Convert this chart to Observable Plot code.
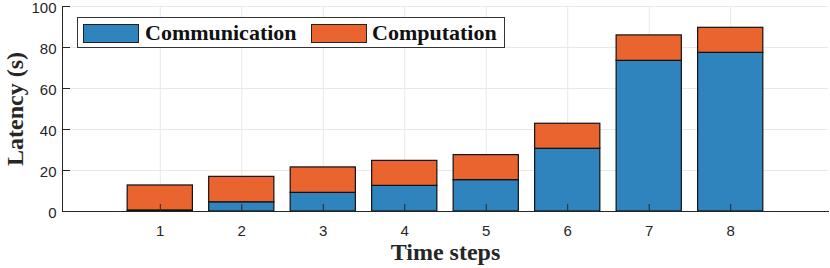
<!DOCTYPE html>
<html>
<head>
<meta charset="utf-8">
<script src="https://cdn.jsdelivr.net/npm/d3@7"></script>
<script src="https://cdn.jsdelivr.net/npm/@observablehq/plot@0.6"></script>
<style>
  html, body { margin: 0; padding: 0; background: #fff; }
  #wrap { position: relative; width: 830px; height: 268px; overflow: hidden; }
  .legend { position: absolute; left: 77px; top: 17px; width: 428px; height: 31px;
            border: 1px solid #333; background: #fff; box-sizing: border-box; }
  .sw { position: absolute; top: 6px; width: 56px; height: 19px; box-sizing: border-box; border: 1.5px solid #222; }
  .lt { position: absolute; top: 3px; font-family: "Liberation Serif", "Times New Roman", serif;
        font-weight: bold; font-size: 22px; line-height: 24px; color: #111; white-space: nowrap; }
</style>
</head>
<body>
<div id="wrap"></div>
<script>
const steps = [1, 2, 3, 4, 5, 6, 7, 8];
const communication = [0.5, 4.5, 9.1, 12.5, 15.3, 30.6, 73.5, 77.4];
const computation = [12.2, 12.4, 12.4, 12.2, 12.2, 12.2, 12.4, 12.2];
const seriesNames = ["Communication", "Computation"];
const seriesColors = ["#2f84be", "#ea6430"];
const yTicks = [0, 20, 40, 60, 80, 100];
const xTicks = steps;

const rows = steps.flatMap((s, i) => [
  {step: s, series: seriesNames[0], y1: 0, y2: communication[i]},
  {step: s, series: seriesNames[1], y1: communication[i], y2: communication[i] + computation[i]}
]);

const W = 830, H = 268, mL = 62, mR = 2, mT = 6, mB = 57;
const frameW = W - mL - mR, frameH = H - mT - mB;
const barHalf = 0.4;
const axisColor = "#262626";
const tickLen = 7;

const chart = Plot.plot({
  width: W,
  height: H,
  marginLeft: mL,
  marginRight: mR,
  marginTop: mT,
  marginBottom: mB,
  style: {fontFamily: "'Liberation Sans', Arial, Helvetica, sans-serif", fontSize: "15px", color: "#262626", background: "#fff"},
  x: {domain: [-0.2, 9.2]},
  y: {domain: [0, 100]},
  color: {domain: seriesNames, range: seriesColors},
  marks: [
    Plot.gridY(yTicks.slice(1), {stroke: "#e8e8e8", strokeOpacity: 1}),
    Plot.gridX(xTicks, {stroke: "#e8e8e8", strokeOpacity: 1}),
    Plot.rect(rows, {
      x1: d => d.step - barHalf, x2: d => d.step + barHalf,
      y1: "y1", y2: "y2", fill: "series", stroke: "#111", strokeWidth: 1.2
    }),
    // inward tick marks
    Plot.tickY(yTicks, {y: d => d, stroke: axisColor, insetRight: frameW - tickLen - 1}),
    Plot.tickX(xTicks, {x: d => d, stroke: axisColor, insetTop: frameH - tickLen}),
    Plot.axisY(yTicks, {tickSize: 0, tickPadding: 6, dy: 2, fill: axisColor, label: null}),
    Plot.axisX(xTicks, {tickSize: 0, tickPadding: 14, fill: axisColor, label: null}),
    Plot.frame({anchor: "left", stroke: axisColor}),
    Plot.frame({anchor: "bottom", stroke: axisColor}),
    Plot.text(["Latency (s)"], {
      frameAnchor: "left", dx: -47, rotate: -90, textAnchor: "middle", lineAnchor: "middle",
      fontFamily: "'Liberation Serif', 'Times New Roman', serif", fontWeight: "bold", fontSize: 24, fill: "#262626"
    }),
    Plot.text(["Time steps"], {
      frameAnchor: "bottom", dy: 41, textAnchor: "middle", lineAnchor: "middle",
      fontFamily: "'Liberation Serif', 'Times New Roman', serif", fontWeight: "bold", fontSize: 24, fill: "#262626"
    })
  ]
});

const wrap = document.getElementById("wrap");
wrap.appendChild(chart);

// Legend (inside plot area, top-left)
const legend = document.createElement("div");
legend.className = "legend";
const swLeft = [5, 233];
const txtLeft = [67, 294];
seriesNames.forEach((name, i) => {
  const sw = document.createElement("div");
  sw.className = "sw";
  sw.style.left = swLeft[i] + "px";
  sw.style.background = seriesColors[i];
  legend.appendChild(sw);
  const t = document.createElement("div");
  t.className = "lt";
  t.style.left = txtLeft[i] + "px";
  t.textContent = name;
  legend.appendChild(t);
});
wrap.appendChild(legend);
</script>
</body>
</html>
